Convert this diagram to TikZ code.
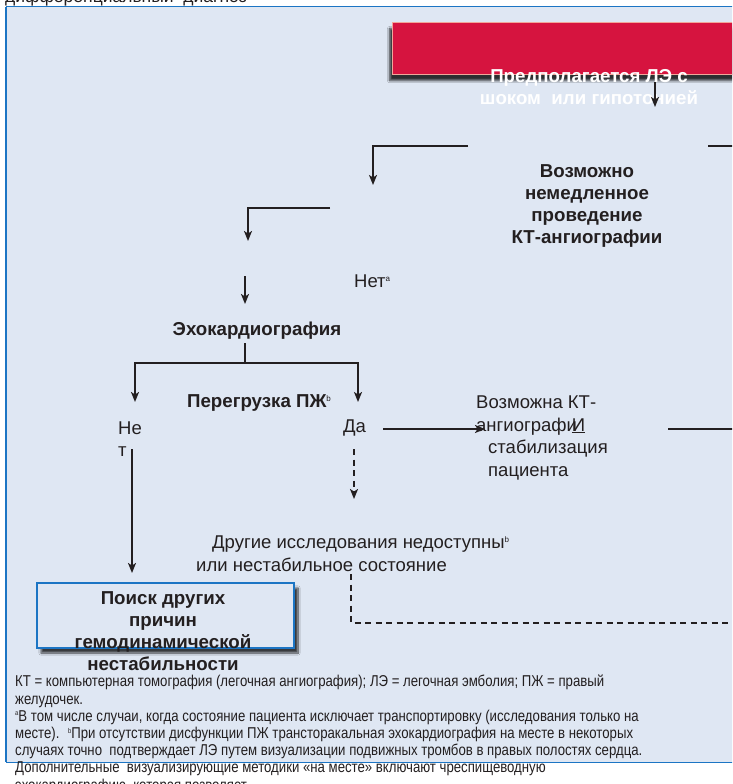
\documentclass[tikz,border=0pt]{standalone}
\usepackage{fontspec}
\setmainfont{Liberation Sans}
\newfontfamily\narrowfont[FakeStretch=0.84]{Liberation Sans}
\usetikzlibrary{arrows.meta,shadows.blur}
\definecolor{bgblue}{HTML}{DFE7F3}
\definecolor{boxblue}{HTML}{1C75C4}
\definecolor{redfill}{HTML}{D6143F}
\definecolor{redline}{HTML}{F2A69A}
\definecolor{txt}{HTML}{231F20}
\newcommand{\supr}[1]{\raisebox{0.62ex}{\mdseries\fontsize{8}{8}\selectfont #1}}
\newcommand{\supn}[1]{\raisebox{0.65ex}{\fontsize{7}{7}\selectfont #1}}
\begin{document}
\begin{tikzpicture}[x=1pt,y=-1pt,
  conn/.style={line width=1.6pt, draw=txt},
  arr/.style={conn, -{Stealth[length=10pt,width=8pt,inset=2.5pt]}},
  dsh/.style={dash pattern=on 6pt off 4.5pt},
  reg/.style={text=txt, inner sep=0pt, font=\fontsize{18.5}{22.7}\selectfont},
  bld/.style={text=txt, inner sep=0pt, font=\bfseries\fontsize{18.7}{22}\selectfont, align=center},
  redbox/.style={fill=redfill, draw=redline, line width=1.2pt, anchor=north west,
     minimum width=380pt, minimum height=52pt, inner sep=0pt,
     blur shadow={shadow xshift=-3pt, shadow yshift=-6pt, shadow blur steps=10, shadow opacity=80}},
  bluebox/.style={fill=bgblue, draw=boxblue, line width=2pt, anchor=north west,
     minimum width=257pt, minimum height=65pt, inner sep=0pt,
     blur shadow={shadow xshift=4pt, shadow yshift=-5pt, shadow blur steps=10, shadow opacity=75}}
]
\useasboundingbox (0,0) rectangle (732,784);
\clip (0,0) rectangle (732,784);
\fill[white] (0,0) rectangle (732,784);
\node[text=txt, inner sep=0pt, font=\fontsize{17.5}{20}\selectfont, anchor=base west] (title) at (5,3) {дифференциальный\ \ диагноз};
\draw[boxblue, line width=1pt, fill=bgblue] (6,7) rectangle (745,762);
\draw[boxblue, line width=2.5pt] (6,7) -- (6,762);

% red box
\node[redbox] (red) at (392,22) {};
\node[bld, text=white] (pe) at (589,87.5) {Предполагается ЛЭ с\\шоком\ \ или гипотонией};

% CT box text
\node[bld] (ct) at (587,206) {Возможно\\немедленное\\проведение\\КТ-ангиографии};
\node[reg, anchor=west] (net1) at (354,281) {Нет\supr{a}};
\node[bld] (echo) at (257,331) {Эхокардиография};
\node[bld] (rv) at (259,403) {Перегрузка ПЖ\supr{b}};
\node[reg, anchor=west, align=left] (net2) at (118,439) {Не\\т};
\node[reg, anchor=west] (da) at (343,428) {Да};
\node[reg, anchor=west, align=left] (ctpos) at (476,438) {Возможна КТ-\\ангиографи\kern-5pt\underline{И}\\\hspace*{12pt}стабилизация\\\hspace*{12pt}пациента};
\node[reg, anchor=west, align=left] (other) at (196,553.5) {\hspace*{16pt}Другие исследования недоступны\supr{b}\\или нестабильное состояние};

% blue box
\node[bluebox] (search) at (36,582) {};
\node[bld] (searcht) at (163,631) {Поиск других\\причин\\гемодинамической\\нестабильности};

% footnote
\node[anchor=north west, align=left, inner sep=0pt, text=txt, font=\narrowfont\fontsize{15.7}{17.2}\selectfont] (fn) at (15,675) {КТ = компьютерная томография (легочная ангиография); ЛЭ = легочная эмболия; ПЖ = правый\\
желудочек.\\
\supn{a}В том числе случаи, когда состояние пациента исключает транспортировку (исследования только на\\
месте).~ \supn{b}При отсутствии дисфункции ПЖ трансторакальная эхокардиография на месте в некоторых\\
случаях точно~ подтверждает ЛЭ путем визуализации подвижных тромбов в правых полостях сердца.\\
Дополнительные~ визуализирующие методики «на месте» включают чреспищеводную\\
эхокардиографию, которая позволяет};

% connectors
\coordinate (a1s) at (655,82); \coordinate (a1e) at (655,107);
\draw[arr] (a1s) -- (a1e);
\coordinate (b1s) at (468,146); \coordinate (b1e) at (373,185);
\draw[arr] (b1s) -| (b1e);
\coordinate (c1s) at (708,146); \coordinate (c1e) at (740,146);
\draw[conn] (c1s) -- (c1e);
\coordinate (d1s) at (330,208); \coordinate (d1e) at (248,241);
\draw[arr] (d1s) -| (d1e);
\coordinate (e1s) at (245,276); \coordinate (e1e) at (245,304);
\draw[arr] (e1s) -- (e1e);
\coordinate (f0) at (245,343); \coordinate (fj) at (245,363);
\coordinate (fl) at (135,402); \coordinate (fr) at (358,402);
\draw[conn] (f0) -- (fj);
\draw[arr] (fj) -| (fl);
\draw[arr] (fj) -| (fr);
\coordinate (g1s) at (132,449); \coordinate (g1e) at (132,573);
\draw[arr] (g1s) -- (g1e);
\coordinate (h1s) at (354,449); \coordinate (h1e) at (354,499);
\draw[arr, dsh] (h1s) -- (h1e);
\coordinate (i1s) at (383,429); \coordinate (i1e) at (485,429);
\draw[arr] (i1s) -- (i1e);
\coordinate (j1s) at (668,429); \coordinate (j1e) at (740,429);
\draw[conn] (j1s) -- (j1e);
\coordinate (k1s) at (351,574); \coordinate (k1e) at (740,623);
\draw[conn, dsh] (k1s) |- (k1e);
\end{tikzpicture}
\end{document}
